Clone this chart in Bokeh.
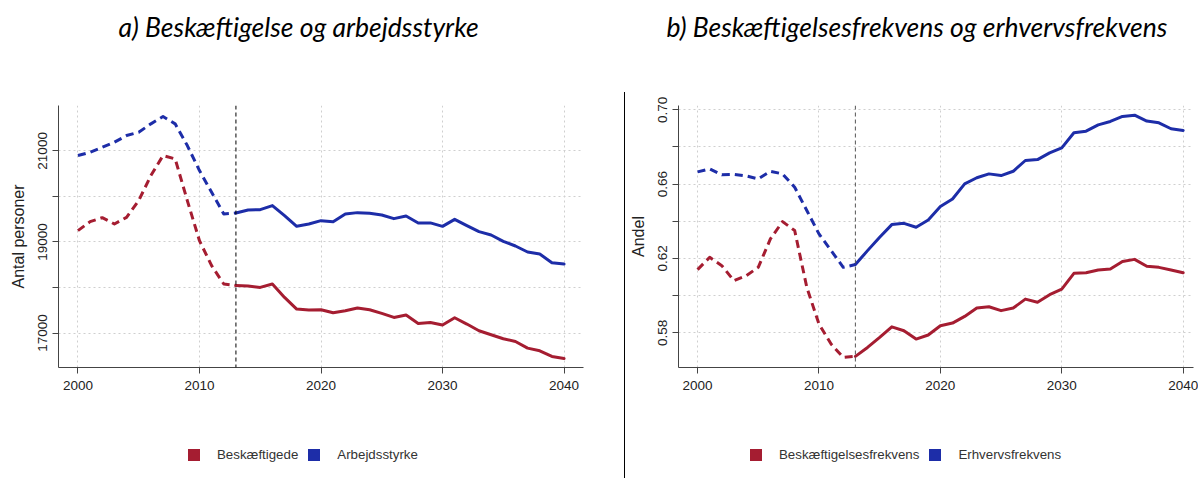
from bokeh.plotting import figure
from bokeh.layouts import row, column
from bokeh.models import Span, Legend, LegendItem, FixedTicker, Title, Div
from bokeh.embed import file_html
from bokeh.resources import INLINE

# ---------------- data ----------------
years = list(range(2000, 2041))
split_year = 2013

beskaeftigede = [19248, 19446, 19534, 19395, 19541, 19908, 20457, 20897, 20824, 19908,
                 19028, 18479, 18077, 18046, 18033, 18002, 18077, 17783, 17527, 17505,
                 17512, 17446, 17490, 17549, 17512, 17431, 17343, 17395, 17211, 17233,
                 17176, 17336, 17198, 17051, 16963, 16875, 16816, 16670, 16611, 16486,
                 16442]
arbejdsstyrke = [20897, 20970, 21080, 21190, 21336, 21410, 21593, 21754, 21593, 21116,
                 20567, 20090, 19615, 19637, 19703, 19710, 19798, 19578, 19343, 19393,
                 19468, 19446, 19615, 19644, 19629, 19593, 19512, 19571, 19418, 19418,
                 19343, 19497, 19358, 19226, 19153, 19013, 18912, 18780, 18736, 18545,
                 18516]
beskaeftigelsesfrekvens = [0.6140, 0.6206, 0.6161, 0.6080, 0.6107, 0.6152, 0.6305, 0.6398, 0.6350, 0.6044,
                           0.5847, 0.5739, 0.5667, 0.5673, 0.5721, 0.5775, 0.5832, 0.5811, 0.5766, 0.5788,
                           0.5838, 0.5852, 0.5888, 0.5933, 0.5940, 0.5919, 0.5933, 0.5981, 0.5964, 0.6005,
                           0.6035, 0.6120, 0.6123, 0.6138, 0.6143, 0.6184, 0.6195, 0.6158, 0.6152, 0.6138,
                           0.6123]
erhvervsfrekvens = [0.6666, 0.6682, 0.6650, 0.6652, 0.6644, 0.6628, 0.6669, 0.6655, 0.6583, 0.6458,
                    0.6332, 0.6242, 0.6152, 0.6167, 0.6242, 0.6314, 0.6382, 0.6389, 0.6368, 0.6407,
                    0.6479, 0.6520, 0.6601, 0.6634, 0.6655, 0.6646, 0.6669, 0.6727, 0.6732, 0.6768,
                    0.6795, 0.6876, 0.6885, 0.6919, 0.6937, 0.6964, 0.6971, 0.6939, 0.6930, 0.6898,
                    0.6889]

x_ticks = [2000, 2010, 2020, 2030, 2040]
left_y_ticks = [17000, 18000, 19000, 20000, 21000]
left_y_labels = ["17000", "", "19000", "", "21000"]
right_y_ticks = [0.58, 0.60, 0.62, 0.64, 0.66, 0.68, 0.70]
right_y_labels = ["0.58", "", "0.62", "", "0.66", "", "0.70"]

title_a = "a) Beskæftigelse og arbejdsstyrke"
title_b = "b) Beskæftigelsesfrekvens og erhvervsfrekvens"
legend_a = ["Beskæftigede", "Arbejdsstyrke"]
legend_b = ["Beskæftigelsesfrekvens", "Erhvervsfrekvens"]
ylabel_a = "Antal personer"
ylabel_b = "Andel"

RED = "#A51D31"
BLUE = "#1D2DA8"
FONT = "Liberation Sans"

H_TITLE = 60
H_MAIN = 370
H_LEG = 48
SEP_TOP = 92 - H_TITLE
FRAME_TOP = 105 - H_TITLE
FRAME_BOTTOM = 367 - H_TITLE


def make_title_fig(width, text, offset):
    p = figure(width=width, height=H_TITLE, output_backend="svg", toolbar_location=None,
               x_axis_location=None, y_axis_location=None, min_border=0,
               min_border_left=0, min_border_right=0, min_border_top=0,
               min_border_bottom=0)
    p.outline_line_color = None
    p.grid.visible = False
    p.title = Title(text=text, align="left", text_font="Lato",
                    text_font_style="italic", text_font_size="26.5px",
                    text_color="#000000", standoff=16, offset=offset)
    return p


def make_panel(width, min_left, min_right, x_range, y_range, yticks, ylabels,
               series, ylabel, vline_color):
    p = figure(width=width, height=H_MAIN, output_backend="svg", toolbar_location=None,
               x_range=x_range, y_range=y_range, min_border=0,
               min_border_left=min_left, min_border_right=min_right,
               min_border_top=FRAME_TOP, min_border_bottom=H_MAIN - FRAME_BOTTOM)
    p.outline_line_color = None
    p.background_fill_color = "white"
    p.border_fill_color = "white"

    for ax in (p.xaxis[0], p.yaxis[0]):
        ax.axis_line_color = "#444444"
        ax.major_tick_line_color = "#444444"
        ax.major_tick_out = 6
        ax.major_tick_in = 0
        ax.minor_tick_line_color = None
        ax.major_label_text_font = FONT
        ax.major_label_text_font_size = "13.5px"
        ax.major_label_text_color = "#222222"
    p.xaxis.major_label_standoff = 7
    p.yaxis.major_label_standoff = 5

    p.xaxis.ticker = FixedTicker(ticks=x_ticks)
    p.yaxis.ticker = FixedTicker(ticks=yticks)
    p.yaxis.major_label_overrides = {t: l for t, l in zip(yticks, ylabels)}
    p.yaxis.major_label_orientation = "vertical"
    p.yaxis.axis_label = ylabel
    p.yaxis.axis_label_text_font = FONT
    p.yaxis.axis_label_text_font_size = "16px"
    p.yaxis.axis_label_text_font_style = "normal"
    p.yaxis.axis_label_text_color = "#222222"
    p.yaxis.axis_label_standoff = 9

    p.grid.grid_line_color = "#cfcfcf"
    p.grid.grid_line_dash = "2 3"
    p.grid.grid_line_width = 1

    p.add_layout(Span(location=split_year, dimension="height",
                      line_color=vline_color, line_dash="4 3", line_width=1))

    for vals, col in zip(series, [RED, BLUE]):
        hist_x = [y for y in years if y <= split_year]
        hist_y = [v for y, v in zip(years, vals) if y <= split_year]
        proj_x = [y for y in years if y >= split_year]
        proj_y = [v for y, v in zip(years, vals) if y >= split_year]
        p.line(hist_x, hist_y, line_color=col, line_width=3, line_dash="8 5",
               line_join="round")
        p.line(proj_x, proj_y, line_color=col, line_width=3, line_join="round",
               line_cap="round")
    return p


def make_legend_fig(width, min_left, min_right, labels, series, legend_x):
    p = figure(width=width, height=H_LEG, output_backend="svg", toolbar_location=None,
               x_axis_location=None, y_axis_location=None, min_border=0,
               min_border_left=min_left, min_border_right=min_right,
               min_border_top=0, min_border_bottom=0)
    p.outline_line_color = None
    p.grid.visible = False
    items = []
    for col, lab, vals in zip([RED, BLUE], labels, series):
        # legend proxy renderer (hidden); only its swatch is shown in the legend
        sq = p.quad(left=years[:1], right=years[:1], top=vals[:1], bottom=vals[:1],
                    fill_color=col, line_color=None, visible=False)
        items.append(LegendItem(label=lab, renderers=[sq]))
    legend = Legend(items=items, orientation="horizontal", location=(legend_x, 16),
                    padding=0, margin=0, spacing=8, label_standoff=16,
                    glyph_width=15, glyph_height=15, border_line_alpha=0,
                    background_fill_alpha=0, label_text_font=FONT,
                    inactive_fill_alpha=0,
                    label_text_font_size="13.3px", label_text_color="#333333")
    p.add_layout(legend)
    return p


title_fig_a = make_title_fig(626, title_a, 118)
title_fig_b = make_title_fig(572, title_b, 40)

left = make_panel(624, 58, 41, (1998.4, 2041.6), (16244, 21996),
                  left_y_ticks, left_y_labels, [beskaeftigede, arbejdsstyrke],
                  ylabel_a, "#000000")
right = make_panel(572, 52, 5, (1998.43, 2040.85), (0.5613, 0.7023),
                   right_y_ticks, right_y_labels,
                   [beskaeftigelsesfrekvens, erhvervsfrekvens],
                   ylabel_b, "#555555")

left_leg = make_legend_fig(624, 58, 41, legend_a, [beskaeftigede, arbejdsstyrke], 128)
right_leg = make_legend_fig(572, 52, 5, legend_b,
                            [beskaeftigelsesfrekvens, erhvervsfrekvens], 70)

sep_top = Div(text="", width=2, height=H_MAIN - SEP_TOP, margin=(SEP_TOP, 0, 0, 0),
              styles={"border-left": "1px solid #000000", "box-sizing": "border-box"})
sep_bot = Div(text="", width=2, height=H_LEG, margin=(0, 0, 0, 0),
              styles={"border-left": "1px solid #000000", "box-sizing": "border-box"})

layout = column(row(title_fig_a, title_fig_b),
                row(left, sep_top, right),
                row(left_leg, sep_bot, right_leg))
open("out.html", "w").write(file_html(layout, INLINE))
